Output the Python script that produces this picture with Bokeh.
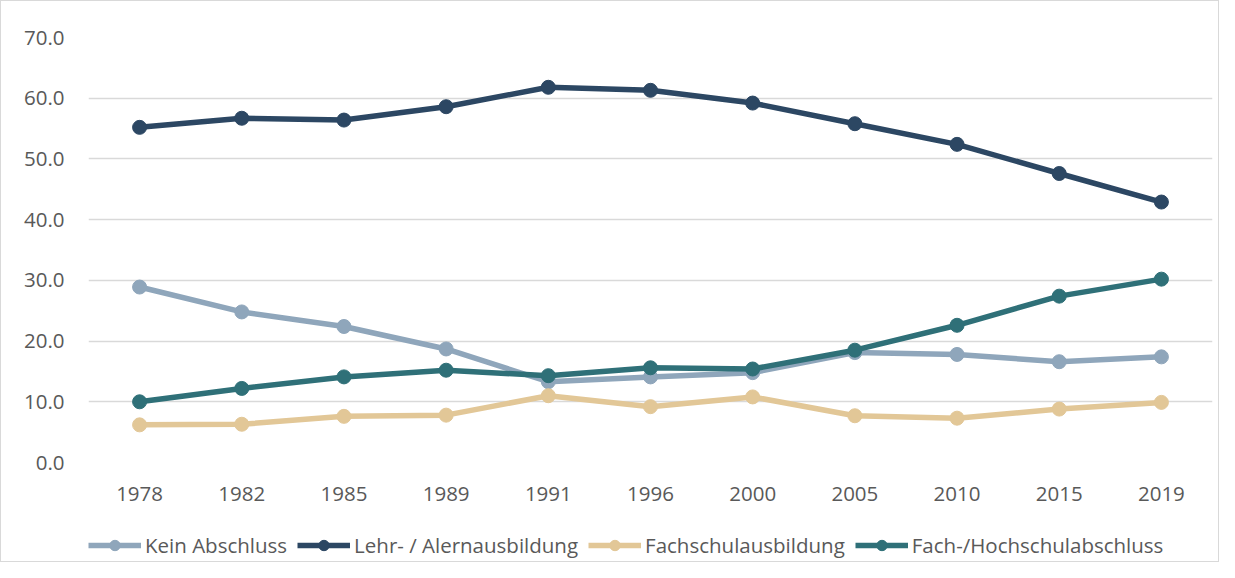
from bokeh.plotting import figure
from bokeh.layouts import column
from bokeh.models import (FactorRange, Range1d, FixedTicker, NumeralTickFormatter,
                          Legend, LegendItem)
from bokeh.embed import file_html
from bokeh.resources import INLINE

years = ["1978", "1982", "1985", "1989", "1991", "1996", "2000", "2005", "2010", "2015", "2019"]
kein = [28.9, 24.8, 22.4, 18.7, 13.3, 14.1, 14.8, 18.1, 17.8, 16.6, 17.4]
lehr = [55.2, 56.7, 56.4, 58.6, 61.8, 61.3, 59.2, 55.8, 52.4, 47.6, 42.9]
fachschul = [6.2, 6.3, 7.6, 7.8, 11.0, 9.2, 10.8, 7.7, 7.3, 8.8, 9.9]
hoch = [10.0, 12.2, 14.1, 15.2, 14.3, 15.6, 15.4, 18.5, 22.6, 27.4, 30.2]

series_names = ["Kein Abschluss", "Lehr- / Alernausbildung", "Fachschulausbildung", "Fach-/Hochschulabschluss"]
series_vals = [kein, lehr, fachschul, hoch]
series_colors = ["#8FA6BB", "#2C4763", "#E2C797", "#2F7078"]
y_ticks = [0, 10, 20, 30, 40, 50, 60, 70]

FONT = "Open Sans"
TXT = "#595959"
W = 1217

# main chart
p = figure(width=W, height=520, x_range=FactorRange(*years, range_padding=0),
           y_range=Range1d(0, 70), output_backend="svg", toolbar_location=None,
           min_border_left=87, min_border_right=6, min_border_top=36, min_border_bottom=59)
p.outline_line_color = None
p.xgrid.grid_line_color = None
p.ygrid.grid_line_color = "#D9D9D9"
p.ygrid.grid_line_width = 1.5

p.yaxis.ticker = FixedTicker(ticks=y_ticks)
p.yaxis.formatter = NumeralTickFormatter(format="0.0")
for ax in (p.xaxis[0], p.yaxis[0]):
    ax.axis_line_color = None
    ax.major_tick_line_color = None
    ax.minor_tick_line_color = None
    ax.major_label_text_font = FONT
    ax.major_label_text_font_size = "20.5px"
    ax.major_label_text_color = TXT
p.yaxis.major_label_standoff = 18
p.xaxis.major_label_standoff = 18

for vals, col in zip(series_vals, series_colors):
    p.line(years, vals, line_color=col, line_width=5.5)
    p.scatter(years, vals, size=14, fill_color=col, line_color=col)

# legend strip: same series drawn outside its (empty) view, only the legend shows
lg = figure(width=W, height=40, x_range=FactorRange(*years), y_range=Range1d(1000, 1001),
            output_backend="svg", toolbar_location=None,
            min_border_left=0, min_border_right=0, min_border_top=0, min_border_bottom=0)
lg.outline_line_color = None
lg.xaxis.visible = False
lg.yaxis.visible = False
lg.grid.visible = False
items = []
for name, vals, col in zip(series_names, series_vals, series_colors):
    r1 = lg.line(years, vals, line_color=col, line_width=5.5)
    r2 = lg.scatter(years, vals, size=12, fill_color=col, line_color=col)
    items.append(LegendItem(label=name, renderers=[r1, r2]))
legend = Legend(items=items, orientation="horizontal", location=(0, 2),
                glyph_width=53, glyph_height=26, label_standoff=4, spacing=10,
                padding=0, margin=0, border_line_color=None, background_fill_alpha=0,
                label_text_font=FONT, label_text_font_size="20.5px", label_text_color=TXT)
lg.add_layout(legend, "center")

layout = column(p, lg, spacing=0, styles={"border": "1px solid #D9D9D9"})

open("out.html", "w").write(file_html(layout, INLINE))
